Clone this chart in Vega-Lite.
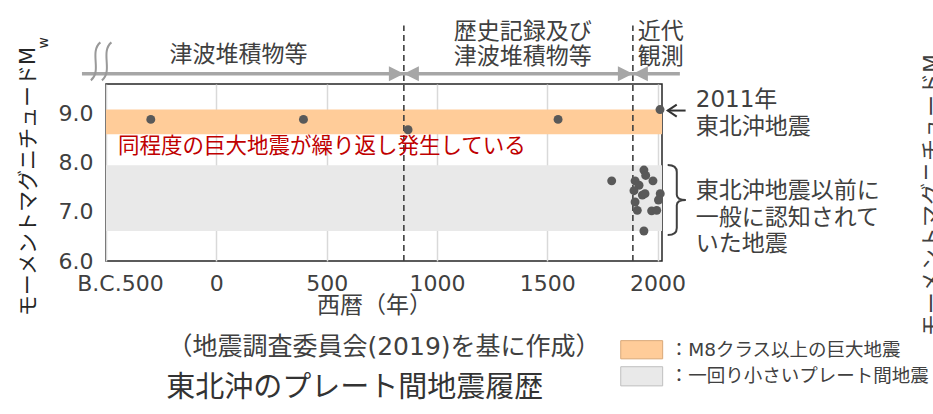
{
  "$schema": "https://vega.github.io/schema/vega-lite/v6.json",
  "width": 556,
  "height": 177,
  "autosize": {"type": "none"},
  "padding": {"left": 106, "top": 84, "right": 271, "bottom": 153},
  "background": "white",
  "config": {
    "view": {"stroke": "#262626", "strokeWidth": 1.5},
    "font": "DejaVu Sans, Noto Sans CJK JP",
    "text": {"font": "DejaVu Sans, Noto Sans CJK JP", "color": "#404040"}
  },
  "datasets": {
    "bands": [
      {"x": -500, "x2": 2020, "y": 8.58, "y2": 9.08, "c": "M8"},
      {"x": -500, "x2": 2020, "y": 6.61, "y2": 7.95, "c": "small"}
    ],
    "legendBoxes": [
      {"x": 1833, "x2": 2023, "y": 4.01, "y2": 4.38, "c": "M8"},
      {"x": 1833, "x2": 2023, "y": 3.46, "y2": 3.85, "c": "small"}
    ],
    "dashes": [
      {"x": 850, "y": 6, "y2": 10.79},
      {"x": 1888, "y": 6, "y2": 10.79}
    ],
    "span": [{"x": -609, "x2": 2101, "y": 9.81}],
    "heads": [{"x": 850, "y": 9.81}, {"x": 1888, "y": 9.81}],
    "breaks": [{"x": -547, "y": 10.06}, {"x": -497, "y": 10.06}],
    "quakes": [
      {"x": -297, "y": 8.88},
      {"x": 395, "y": 8.88},
      {"x": 869, "y": 8.67},
      {"x": 1549, "y": 8.88},
      {"x": 2011, "y": 9.08},
      {"x": 1792, "y": 7.63},
      {"x": 1938, "y": 7.85},
      {"x": 1946, "y": 7.74},
      {"x": 1979, "y": 7.63},
      {"x": 1898, "y": 7.63},
      {"x": 1916, "y": 7.54},
      {"x": 1893, "y": 7.43},
      {"x": 1931, "y": 7.34},
      {"x": 1943, "y": 7.37},
      {"x": 2012, "y": 7.37},
      {"x": 2004, "y": 7.24},
      {"x": 1898, "y": 7.2},
      {"x": 1908, "y": 7.03},
      {"x": 1973, "y": 7.02},
      {"x": 1996, "y": 7.03},
      {"x": 1938, "y": 6.61}
    ],
    "ptr": [{"x": 2046, "x2": 2127, "y": 9.06}],
    "chev": [{"x": 2046, "y": 9.06}],
    "brace": [{"x": 2087, "y": 7.24}],
    "topLabels": [
      {"x": 101, "y": 10.18, "t": "津波堆積物等"},
      {"x": 1389, "y": 10.65, "t": "歴史記録及び\n津波堆積物等"},
      {"x": 2014, "y": 10.65, "t": "近代\n観測"}
    ],
    "sideLabels": [
      {"x": 2173, "y": 9.27, "t": "2011年\n東北沖地震"},
      {"x": 2173, "y": 7.42, "t": "東北沖地震以前に\n一般に認知されて\nいた地震"}
    ],
    "red": [{"x": -446, "y": 8.31, "t": "同程度の巨大地震が繰り返し発生している"}],
    "caption": [{"x": 760, "y": 4.26, "t": "（地震調査委員会(2019)を基に作成）"}],
    "title": [{"x": 627, "y": 3.42, "t": "東北沖のプレート間地震履歴"}],
    "legendText": [
      {"x": 2055, "y": 4.19, "t": "：M8クラス以上の巨大地震"},
      {"x": 2055, "y": 3.67, "t": "：一回り小さいプレート間地震"}
    ],
    "sub": [{"x": -781, "y": 10.44, "t": "w"}],
    "edge": [{"x": 3243, "y": 7.34, "t": "モーメントマグニチュードM"}]
  },
  "encoding": {
    "x": {
      "field": "x",
      "type": "quantitative",
      "scale": {"domain": [-500, 2020], "nice": false, "zero": false},
      "axis": {
        "values": [-500, 0, 500, 1000, 1500, 2000],
        "format": "d",
        "labelExpr": "datum.value < 0 ? 'B.C.500' : datum.label",
        "labelFlush": false,
        "labelOverlap": false,
        "labelOffset": {"condition": {"test": "datum.value < 0", "value": 14}, "value": 0},
        "labelFontSize": 22,
        "labelColor": "#404040",
        "labelPadding": 12,
        "ticks": false,
        "tickSize": 0,
        "domain": false,
        "grid": true,
        "gridColor": "#d9d9d9",
        "gridWidth": 1.5,
        "title": "西暦（年）",
        "titleFontSize": 23,
        "titleFontWeight": "normal",
        "titleColor": "#404040",
        "titleAlign": "center",
        "titleBaseline": "middle",
        "titleX": 268,
        "titleY": 44
      }
    },
    "y": {
      "field": "y",
      "type": "quantitative",
      "scale": {"domain": [6, 9.6], "nice": false, "zero": false},
      "axis": {
        "values": [6, 7, 8, 9],
        "format": ".1f",
        "labelFontSize": 22,
        "labelColor": "#404040",
        "labelPadding": 13,
        "ticks": false,
        "tickSize": 0,
        "domain": false,
        "grid": false,
        "title": "モーメントマグニチュードM",
        "titleFontSize": 21,
        "titleFontWeight": "normal",
        "titleColor": "#262626",
        "titleAngle": -90,
        "titleAlign": "center",
        "titleBaseline": "middle",
        "titleX": -78,
        "titleY": 97
      }
    }
  },
  "layer": [
    {
      "data": {"name": "bands"},
      "mark": {"type": "rect", "clip": false},
      "encoding": {
        "x2": {"field": "x2"},
        "y2": {"field": "y2"},
        "color": {"field": "c", "type": "nominal", "scale": {"domain": ["M8", "small"], "range": ["#ffcc99", "#e9e9e9"]}, "legend": null}
      }
    },
    {
      "data": {"name": "legendBoxes"},
      "mark": {"type": "rect", "clip": false, "strokeWidth": 1},
      "encoding": {
        "x2": {"field": "x2"},
        "y2": {"field": "y2"},
        "color": {"field": "c", "type": "nominal", "legend": null},
        "stroke": {"field": "c", "type": "nominal", "scale": {"domain": ["M8", "small"], "range": ["#d9a877", "#bfbfbf"]}, "legend": null}
      }
    },
    {
      "data": {"name": "dashes"},
      "mark": {"type": "rule", "clip": false, "color": "#404040", "strokeWidth": 1.6, "strokeDash": [6, 4]},
      "encoding": {"y2": {"field": "y2"}}
    },
    {
      "data": {"name": "span"},
      "mark": {"type": "rule", "clip": false, "color": "#a6a6a6", "strokeWidth": 3.5},
      "encoding": {"x2": {"field": "x2"}}
    },
    {
      "data": {"name": "heads"},
      "mark": {"type": "point", "clip": false, "filled": true, "color": "#a6a6a6", "opacity": 1, "size": 225, "shape": "M0,0L-2,-1L-2,1Z"},
      "encoding": {}
    },
    {
      "data": {"name": "heads"},
      "mark": {"type": "point", "clip": false, "filled": true, "color": "#a6a6a6", "opacity": 1, "size": 225, "shape": "M0,0L2,-1L2,1Z"},
      "encoding": {}
    },
    {
      "data": {"name": "breaks"},
      "mark": {"type": "point", "clip": false, "filled": false, "color": "#999999", "opacity": 1, "strokeWidth": 2, "size": 1444, "shape": "M0.25,-1C-0.35,-0.5 0.35,0.5 -0.25,1"},
      "encoding": {}
    },
    {
      "data": {"name": "quakes"},
      "mark": {"type": "circle", "clip": false, "color": "#595959", "opacity": 1, "size": 80},
      "encoding": {}
    },
    {
      "data": {"name": "ptr"},
      "mark": {"type": "rule", "clip": false, "color": "#333333", "strokeWidth": 2},
      "encoding": {"x2": {"field": "x2"}}
    },
    {
      "data": {"name": "chev"},
      "mark": {"type": "point", "clip": false, "filled": false, "color": "#333333", "opacity": 1, "strokeWidth": 2, "size": 36, "shape": "M3,-2L0,0L3,2"},
      "encoding": {}
    },
    {
      "data": {"name": "brace"},
      "mark": {"type": "point", "clip": false, "filled": false, "color": "#404040", "opacity": 1, "strokeWidth": 2, "size": 4900, "shape": "M-0.26,-1Q0,-1 0,-0.8L0,-0.15Q0,0 0.26,0Q0,0 0,0.15L0,0.8Q0,1 -0.26,1"},
      "encoding": {}
    },
    {
      "data": {"name": "topLabels"},
      "mark": {"type": "text", "clip": false, "fontSize": 23, "align": "center", "baseline": "middle", "lineBreak": "\n", "lineHeight": 25, "color": "#404040"},
      "encoding": {"text": {"field": "t"}}
    },
    {
      "data": {"name": "sideLabels"},
      "mark": {"type": "text", "clip": false, "fontSize": 23, "align": "left", "baseline": "middle", "lineBreak": "\n", "lineHeight": 26.5, "color": "#404040"},
      "encoding": {"text": {"field": "t"}}
    },
    {
      "data": {"name": "red"},
      "mark": {"type": "text", "clip": false, "fontSize": 21.5, "align": "left", "baseline": "middle", "color": "#c00000"},
      "encoding": {"text": {"field": "t"}}
    },
    {
      "data": {"name": "caption"},
      "mark": {"type": "text", "clip": false, "fontSize": 25, "align": "center", "baseline": "middle", "color": "#404040"},
      "encoding": {"text": {"field": "t"}}
    },
    {
      "data": {"name": "title"},
      "mark": {"type": "text", "clip": false, "fontSize": 29, "align": "center", "baseline": "middle", "color": "#333333"},
      "encoding": {"text": {"field": "t"}}
    },
    {
      "data": {"name": "legendText"},
      "mark": {"type": "text", "clip": false, "fontSize": 18.5, "align": "left", "baseline": "middle", "color": "#404040"},
      "encoding": {"text": {"field": "t"}}
    },
    {
      "data": {"name": "sub"},
      "mark": {"type": "text", "clip": false, "fontSize": 14, "align": "center", "baseline": "middle", "angle": -90, "color": "#262626"},
      "encoding": {"text": {"field": "t"}}
    },
    {
      "data": {"name": "edge"},
      "mark": {"type": "text", "clip": false, "fontSize": 22, "align": "center", "baseline": "middle", "angle": -90, "color": "#404040"},
      "encoding": {"text": {"field": "t"}}
    }
  ]
}
